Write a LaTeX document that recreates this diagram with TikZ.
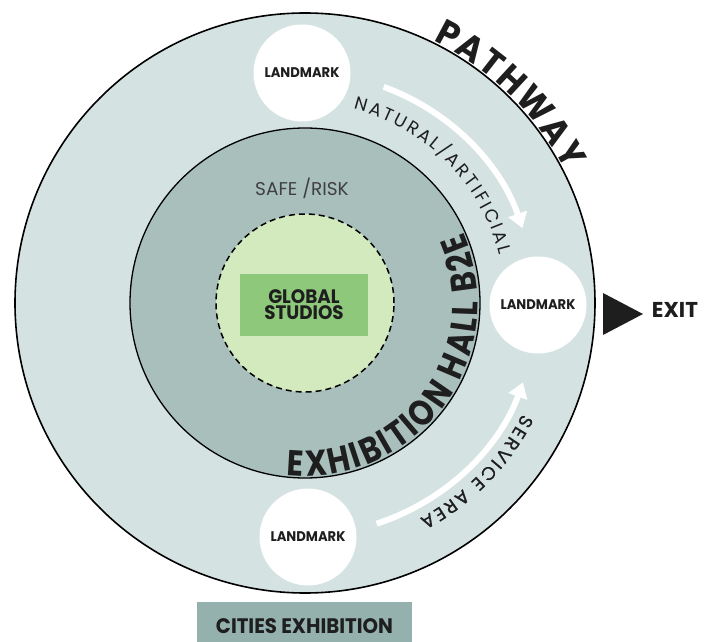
\documentclass[tikz,border=0pt]{standalone}
\usepackage{fontspec}
\setmainfont{Poppins}
\newfontfamily\narrowfont[FakeStretch=0.94]{Poppins}
\newfontfamily\hallfont[FakeStretch=0.85]{Poppins}
\usepackage{tikz}
\usetikzlibrary{arrows.meta,positioning,decorations.text}
\definecolor{ringcol}{HTML}{D4E3E2}
\definecolor{hallcol}{HTML}{A8BFBC}
\definecolor{studiocol}{HTML}{D3EABF}
\definecolor{boxcol}{HTML}{8EC87B}
\definecolor{citycol}{HTML}{94B1AD}
\definecolor{inkcol}{HTML}{1E1E1E}

\begin{document}
\begin{tikzpicture}[x=1pt, y=1pt, every node/.style={text=inkcol, font=\narrowfont\bfseries}]
\tikzset{landmark/.style={circle, fill=white, minimum size=97pt, inner sep=0pt, font=\narrowfont\bfseries\fontsize{14}{16}\selectfont}}
\tikzset{flow/.style={white, line width=6pt, -{Triangle[width=19pt, length=15pt]}}}
\tikzset{arctext/.style={decorate, decoration={text along path, text align=fit to path, text color=inkcol}}}
\useasboundingbox (0,0) rectangle (707,641);
\coordinate (c) at (305,338);
\draw[line width=1.6pt, fill=ringcol] (c) circle (290pt);
\draw[line width=1.3pt, fill=hallcol] (c) circle (175pt);
\draw[line width=1.5pt, dash pattern=on 6pt off 4pt, fill=studiocol] (c) circle (89pt);
\node[fill=boxcol, minimum width=128pt, minimum height=62pt, align=center, font=\narrowfont\bfseries\fontsize{19.5}{16}\selectfont] (studios) at (304,336) {GLOBAL\\STUDIOS};
\node[font=\fontsize{18.5}{20}\selectfont, text=inkcol!85] (safe) at (302,453) {SAFE /RISK};
\node[landmark] (lmtop) at (302,568) {LANDMARK};
\node[landmark] (lmright) at (538,336) {LANDMARK};
\node[landmark] (lmbottom) at (308,104) {LANDMARK};
\draw[flow] ([shift={(70:230pt)}]c) arc[start angle=70, end angle=19, radius=230pt];
\draw[flow] ([shift={(-72:232pt)}]c) arc[start angle=-72, end angle=-20, radius=232pt];
\path[arctext, decoration={text={|\bfseries\fontsize{36}{36}\selectfont\addfontfeature{FakeStretch=0.95}|PATHWAY}}] ([shift={(64:292pt)}]c) arc[start angle=64, end angle=27, radius=292pt];
\path[arctext, decoration={text={|\fontsize{18}{18}\selectfont|NATURAL/ARTIFICIAL}}] ([shift={(76:200pt)}]c) arc[start angle=76, end angle=14, radius=200pt];
\path[arctext, decoration={text={|\fontsize{18.5}{18}\selectfont\addfontfeature{FakeBold=0.8}|SERVICE AREA}}] ([shift={(-27:244pt)}]c) arc[start angle=-27, end angle=-62, radius=244pt];
\path[arctext, decoration={text={|\hallfont\bfseries\fontsize{36}{36}\selectfont|EXHIBITION HALL B2E}}] ([shift={(-96:173pt)}]c) arc[start angle=-96, end angle=24, radius=173pt];
\fill[inkcol] (603,348) -- (603,306) -- (643,327) -- cycle;
\node[font=\bfseries\fontsize{21.5}{24}\selectfont] (exit) at (675,331) {EXIT};
\node[fill=citycol, minimum width=215pt, minimum height=48pt, anchor=north, font=\narrowfont\bfseries\fontsize{21}{24}\selectfont] (cities) at (304.5,39) {CITIES EXHIBITION};
\end{tikzpicture}
\end{document}
